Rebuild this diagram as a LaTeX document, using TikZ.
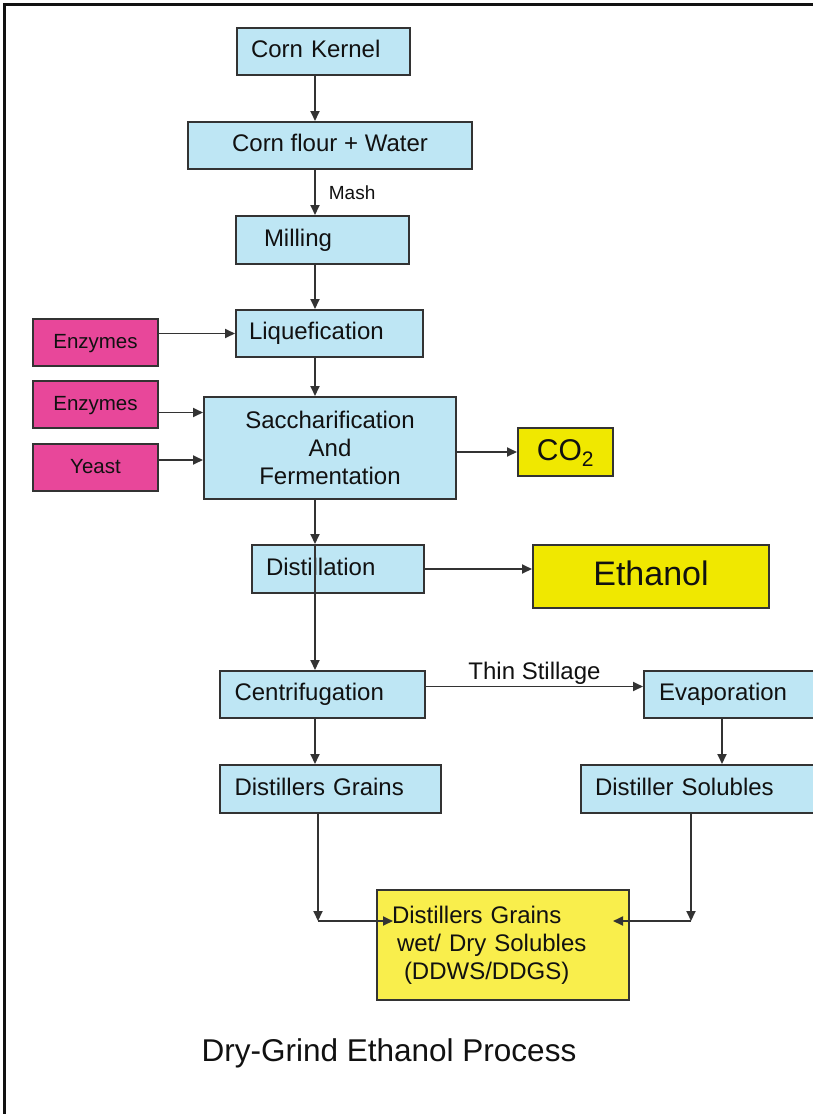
\documentclass[tikz,border=0pt]{standalone}
\usepackage{fontspec}
\setmainfont{Liberation Sans}
\usetikzlibrary{arrows.meta,calc}
\definecolor{lblue}{HTML}{BEE6F4}
\definecolor{pinkbox}{HTML}{E8479A}
\definecolor{ybox}{HTML}{F0E800}
\definecolor{ylight}{HTML}{F9EE4C}
\definecolor{edge}{HTML}{333333}
\definecolor{ink}{HTML}{111111}
\begin{document}
\begin{tikzpicture}[x=1pt,y=-1pt,
  box/.style={draw=edge, line width=2pt, fill=lblue, inner ysep=0pt, text=ink,
    font=\fontsize{24}{28}\selectfont, text height=17pt, text depth=5pt, align=left},
  geo/.style n args={4}{minimum width=#1, minimum height=#2, text width=#3, inner xsep=#4},
  cbox/.style={box, align=center},
  pbox/.style={box, fill=pinkbox, align=center, font=\fontsize{20.5}{24}\selectfont,
    text height=15pt, text depth=4pt, minimum width=125pt, minimum height=47pt},
  ybx/.style={box, fill=ybox, align=center},
  arr/.style={draw=edge, line width=1.8pt, -{Triangle[length=10pt,width=9pt]}},
  lbl/.style={text=ink, inner sep=1pt}
]
\useasboundingbox (0,0) rectangle (813,1114);
\clip (0,0) rectangle (813,1114);
\fill[white] (0,0) rectangle (813,1114);
\draw[line width=2.5pt, ink] (813,4.5) -- (4.5,4.5) -- (4.5,1114);

\coordinate (spine) at (315,0);
\coordinate (espine) at (722,0);

% main column
\node[box, geo={173pt}{47pt}{145pt}{14pt}] (kernel) at (323.5,51.5) {Corn Kernel};
\node[cbox, minimum width=284pt, minimum height=47pt] (flour) at (330,145.5) {Corn flour + Water};
\node[box, geo={173pt}{48pt}{117pt}{28pt}] (milling) at (322.5,240) {Milling};
\node[box, geo={187pt}{47pt}{161pt}{13pt}] (liq) at (329.5,333.5) {Liquefication};
\node[cbox, minimum width=252pt, minimum height=102pt, text height=, text depth=] (sacch) at (330,448)
  {Saccharification\\And\\Fermentation};
\node[box, geo={172pt}{48pt}{144pt}{14pt}] (dist) at (338,569) {Distillation};
\node[box, geo={205pt}{47pt}{176pt}{14.5pt}] (centrif) at (322.5,694.5) {Centrifugation};
\node[box, geo={221pt}{48pt}{192pt}{14.5pt}] (dgrains) at (330.5,789) {Distillers Grains};

% right column
\node[box, geo={186pt}{47pt}{156pt}{15pt}] (evap) at (737,694.5) {Evaporation};
\node[box, geo={249pt}{48pt}{221pt}{14pt}] (dsol) at (705.5,789) {Distiller Solubles};

% inputs
\node[pbox] (enz1) at (95.5,342.5) {Enzymes};
\node[pbox] (enz2) at (95.5,404.5) {Enzymes};
\node[pbox] (yeast) at (95.5,467.5) {Yeast};

% outputs
\node[ybx, minimum width=95pt, minimum height=48pt, font=\fontsize{30}{34}\selectfont,
  text height=22pt, text depth=6pt] (co2) at (565.5,452) {CO\textsubscript{2}};
\node[ybx, minimum width=236pt, minimum height=63pt, font=\fontsize{34}{38}\selectfont,
  text height=25pt, text depth=7pt] (ethanol) at (651,576.5) {Ethanol};
\node[box, fill=ylight, geo={252pt}{110pt}{222pt}{15pt}, text height=, text depth=] (ddgs) at (503,945)
  {Distillers Grains\\\hspace*{5pt}wet/ Dry Solubles\\\hspace*{12pt}(DDWS/DDGS)};

% connectors along the spine
\draw[arr] (kernel.south -| spine) -- (flour.north -| spine);
\draw[arr] (flour.south -| spine) -- (milling.north -| spine)
  node[midway, right, lbl, xshift=12pt, font=\fontsize{19}{22}\selectfont] {Mash};
\draw[arr] (milling.south -| spine) -- (liq.north -| spine);
\draw[arr] (liq.south -| spine) -- (sacch.north -| spine);
\draw[arr] (sacch.south -| spine) -- (dist.north -| spine);
\draw[arr] (dist.north -| spine) -- (centrif.north -| spine);
\draw[arr] (centrif.south -| spine) -- (dgrains.north -| spine);
\draw[arr] (evap.south -| espine) -- (dsol.north -| espine);

% side inputs
\draw[arr] (enz1.east |- liq.west) -- (liq.west);
\coordinate (e2o) at ([yshift=-8pt]enz2.east);
\draw[arr] (e2o) -- (e2o -| sacch.west);
\coordinate (yo) at ([yshift=7.5pt]yeast.east);
\draw[arr] (yo) -- (yo -| sacch.west);

% outputs
\draw[arr] (sacch.east |- co2.west) -- (co2.west);
\draw[arr] (dist.east) -- (dist.east -| ethanol.west);
\coordinate (co) at ([yshift=8pt]centrif.east);
\draw[arr] (co) -- (co -| evap.west)
  node[midway, above, lbl, font=\fontsize{24}{28}\selectfont, text height=17pt, text depth=5pt] {Thin Stillage};

% into the final product
\coordinate (lc) at (318,921);
\coordinate (lin) at (393,921);
\coordinate (rc) at (691,921);
\coordinate (rin) at (613,921);
\draw[arr] (dgrains.south -| lc) -- (lc);
\draw[arr] (lc) -- (lin);
\draw[arr] (dsol.south -| rc) -- (rc);
\draw[arr] (rc) -- (rin);

\node[text=ink, font=\fontsize{31.5}{36}\selectfont] (title) at (389,1053) {Dry-Grind Ethanol Process};
\end{tikzpicture}
\end{document}
